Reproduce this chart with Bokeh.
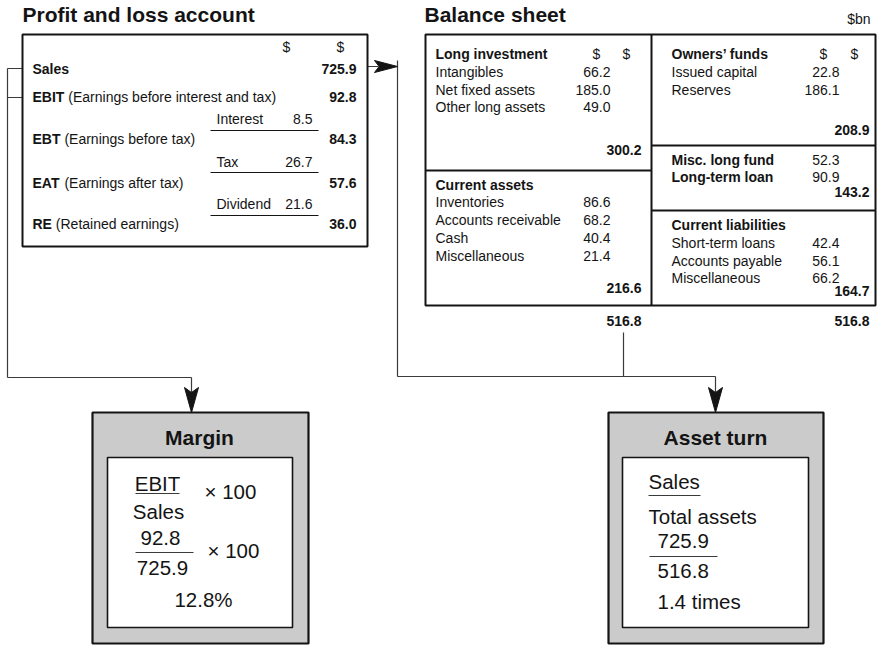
from bokeh.plotting import figure
from bokeh.models import Range1d
from bokeh.embed import file_html
from bokeh.resources import INLINE
from bokeh.core.properties import value

# ------------------------------------------------------------------ data
pl_titles = ["Sales", "EBIT", "EBT", "EAT", "RE"]
pl_notes = ["", "(Earnings before interest and tax)", "(Earnings before tax)",
            "(Earnings after tax)", "(Retained earnings)"]
pl_totals = [725.9, 92.8, 84.3, 57.6, 36.0]
pl_deductions = ["Interest", "Tax", "Dividend"]
pl_deduction_values = [8.5, 26.7, 21.6]

long_items = ["Intangibles", "Net fixed assets", "Other long assets"]
long_values = [66.2, 185.0, 49.0]
long_total = 300.2
current_items = ["Inventories", "Accounts receivable", "Cash", "Miscellaneous"]
current_values = [86.6, 68.2, 40.4, 21.4]
current_total = 216.6
owner_items = ["Issued capital", "Reserves"]
owner_values = [22.8, 186.1]
owner_total = 208.9
longfund_items = ["Misc. long fund", "Long-term loan"]
longfund_values = [52.3, 90.9]
longfund_total = 143.2
liab_items = ["Short-term loans", "Accounts payable", "Miscellaneous"]
liab_values = [42.4, 56.1, 66.2]
liab_total = 164.7
total_assets = 516.8
total_funds = 516.8

# ------------------------------------------------------------------ layout
FONT = "Liberation Sans"
INK = "#141414"
LINE = "#3a3a3a"
GREY = "#cbcbcb"
W, H = 877, 645
X0, X1, Y0, Y1 = 0, W, 0, H
TITLE = 21
BIG = 20.5

p = figure(width=W, height=H, x_range=Range1d(X0, X1), y_range=Range1d(Y1, Y0),
           output_backend="svg", toolbar_location=None,
           x_axis_type=None, y_axis_type=None, min_border=0)
p.outline_line_color = None
p.background_fill_color = "white"
p.border_fill_color = "white"

SX = (X1 - X0) / W  # data units per pixel (horizontal)

BOLD_W = {"E": .667, "B": .722, "I": .278, "T": .611, "A": .722, "R": .722, "S": .667,
          "a": .556, "l": .278, "e": .556, "s": .556}


def txt(xs, ys, texts, size=14, bold=False, align="left"):
    # ys are baselines; text is drawn centred on its cap height
    yc = [y - 0.36 * size for y in ys]
    p.text(x=xs, y=yc, text=texts, text_font=value(FONT),
           text_font_size=f"{size}px", text_font_style="bold" if bold else "normal",
           text_align=align, text_baseline="middle", text_color=INK)


def fmt(v):
    return f"{v:.1f}"


def seg(x0, y0, x1, y1, color=LINE, width=1.2):
    p.segment(x0=x0, y0=y0, x1=x1, y1=y1, line_color=color, line_width=width)


def head(tx, ty, dx, dy, length=24, hw=7, notch=0.8):
    nx, ny = -dy, dx
    bx, by = tx - dx * length, ty - dy * length
    mx, my = tx - dx * length * notch, ty - dy * length * notch
    xs = [tx, bx + nx * hw, mx, bx - nx * hw]
    ys = [ty, by + ny * hw, my, by - ny * hw]
    p.patch(xs, ys, fill_color=INK, line_color=INK, line_width=1)


def box(l, r, t, b, fill="white", width=2.0, color=INK):
    p.quad(left=[l], right=[r], top=[t], bottom=[b], fill_color=fill,
           line_color=color, line_width=width)


# ------------------------------------------------------------------ connectors
seg([7, 7, 7, 7, 191], [68, 97, 68, 377, 377], [22, 22, 7, 191, 191], [68, 97, 377, 377, 392])
head(191, 412, 0, 1, length=25, hw=7)
seg([366, 397, 397, 623, 715], [66, 60, 376, 332, 376], [378, 397, 715, 623, 715], [66, 376, 376, 376, 392])
head(397, 66, 1, 0, length=23, hw=6)
head(715, 412, 0, 1, length=25, hw=7)

# ------------------------------------------------------------------ profit and loss
txt([22], [22], ["Profit and loss account"], size=TITLE, bold=True)
box(22, 367, 34, 246)
txt([286, 340], [52, 52], ["$", "$"], align="center")
pl_y = [74, 102, 144, 188, 229]
txt([32] * len(pl_titles), pl_y, pl_titles, bold=True)
note_x = [32 + (sum(BOLD_W[c] for c in t) + 0.278) * 14 * SX for t in pl_titles]
txt(note_x[1:], pl_y[1:], pl_notes[1:])
txt([356] * len(pl_totals), pl_y, [fmt(v) for v in pl_totals], bold=True, align="right")
ded_y = [124, 167, 209]
txt([216] * len(pl_deductions), ded_y, pl_deductions)
txt([312] * len(pl_deduction_values), ded_y, [fmt(v) for v in pl_deduction_values], align="right")
under_y = [130, 172, 215]
seg([210] * 3, under_y, [318] * 3, under_y, color=INK, width=1.2)

# ------------------------------------------------------------------ balance sheet
txt([424], [22], ["Balance sheet"], size=TITLE, bold=True)
txt([870], [24], ["$bn"], align="right")
box(425, 875, 34, 305)
seg([651, 425, 651, 651], [34, 170, 145, 210], [651, 651, 875, 875], [305, 170, 145, 210], color=INK, width=2)

# left column
LX, LV, LT = 435, 610, 641
txt([LX], [59], ["Long investment"], bold=True)
txt([596, 626], [59, 59], ["$", "$"], align="center")
ly = [77, 95, 112]
txt([LX] * 3, ly, long_items)
txt([LV] * 3, ly, [fmt(v) for v in long_values], align="right")
txt([LT], [155], [fmt(long_total)], bold=True, align="right")
txt([LX], [190], ["Current assets"], bold=True)
cy = [207, 225, 243, 261]
txt([LX] * 4, cy, current_items)
txt([LV] * 4, cy, [fmt(v) for v in current_values], align="right")
txt([LT], [293], [fmt(current_total)], bold=True, align="right")
txt([LT], [326], [fmt(total_assets)], bold=True, align="right")

# right column
RX, RV, RT = 671, 839, 869
txt([RX], [59], ["Owners\u2019 funds"], bold=True)
txt([823, 854], [59, 59], ["$", "$"], align="center")
oy = [77, 95]
txt([RX] * 2, oy, owner_items)
txt([RV] * 2, oy, [fmt(v) for v in owner_values], align="right")
txt([RT], [135], [fmt(owner_total)], bold=True, align="right")
fy = [165, 182]
txt([RX] * 2, fy, longfund_items, bold=True)
txt([RV] * 2, fy, [fmt(v) for v in longfund_values], align="right")
txt([RT], [197], [fmt(longfund_total)], bold=True, align="right")
txt([RX], [230], ["Current liabilities"], bold=True)
qy = [248, 266, 283]
txt([RX] * 3, qy, liab_items)
txt([RV] * 3, qy, [fmt(v) for v in liab_values], align="right")
txt([RT], [296], [fmt(liab_total)], bold=True, align="right")
txt([RT], [326], [fmt(total_funds)], bold=True, align="right")

# ------------------------------------------------------------------ margin
ebit, sales = pl_totals[1], pl_totals[0]
box(92, 308, 412, 643, fill=GREY, width=2.2)
box(107, 292, 457, 627, fill="white", width=1.6)
txt([199], [445], ["Margin"], size=TITLE, bold=True, align="center")
txt([157], [490], [pl_titles[1]], size=BIG, align="center")
seg([135], [493], [179], [493], color=LINE, width=1.2)
txt([204], [498], ["\u00d7 100"], size=BIG)
txt([158], [518], [pl_titles[0]], size=BIG, align="center")
txt([160], [545], [fmt(ebit)], size=BIG, align="center")
seg([135], [552], [193], [552], color=LINE, width=1.2)
txt([207], [557], ["\u00d7 100"], size=BIG)
txt([162], [575], [fmt(sales)], size=BIG, align="center")
txt([203], [606], [f"{ebit / sales * 100:.1f}%"], size=BIG, align="center")

# ------------------------------------------------------------------ asset turn
box(608, 823, 412, 643, fill=GREY, width=2.2)
box(622, 808, 457, 627, fill="white", width=1.6)
txt([715], [445], ["Asset turn"], size=TITLE, bold=True, align="center")
txt([648], [488], [pl_titles[0]], size=BIG)
seg([648], [495], [700], [495], color=LINE, width=1.2)
txt([648], [523], ["Total assets"], size=BIG)
txt([657], [548], [fmt(sales)], size=BIG)
seg([649], [556], [717], [556], color=LINE, width=1.2)
txt([657], [578], [fmt(total_assets)], size=BIG)
txt([657], [608], [f"{sales / total_assets:.1f} times"], size=BIG)

open("out.html", "w").write(file_html(p, INLINE))
